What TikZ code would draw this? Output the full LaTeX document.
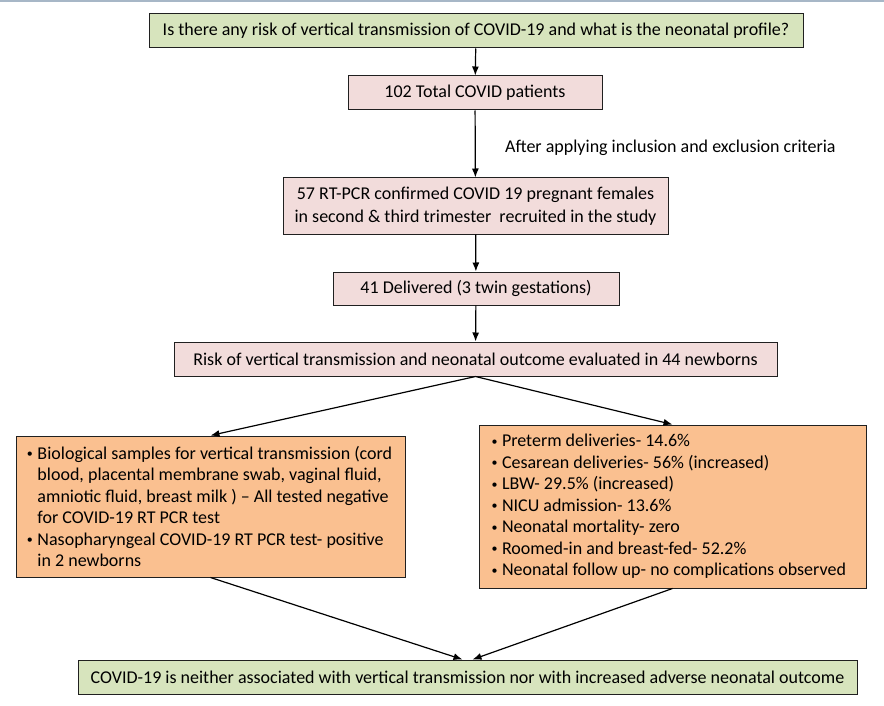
\documentclass[tikz,border=0pt]{standalone}
\usepackage{fontspec}
\setmainfont{Carlito}
\usetikzlibrary{arrows.meta,calc}
\definecolor{qgreen}{HTML}{D7E4BD}
\definecolor{qpink}{HTML}{F2DCDB}
\definecolor{qorange}{HTML}{FAC090}
\definecolor{qrule}{HTML}{A7B7C7}
\definecolor{qedge}{HTML}{202020}
\newcommand{\bitem}[2]{\par\hangindent=#1\hangafter=1\noindent\makebox[#1][l]{\hspace{1.5pt}\raisebox{1.5pt}{\fontsize{12}{12}\selectfont\textbullet}}#2}
\tikzset{
  basebox/.style={draw=qedge, line width=1pt, inner sep=0pt, align=center,
    font=\fontsize{18}{23}\selectfont},
  greenbox/.style={basebox, fill=qgreen},
  pinkbox/.style={basebox, fill=qpink},
  orangebox/.style={basebox, fill=qorange},
  flow/.style={line width=1.2pt, -{Latex[length=9pt,width=7pt]}},
}
\begin{document}
\begin{tikzpicture}[x=1pt,y=-1pt]
\useasboundingbox (0,0) rectangle (884,706);
\fill[qrule] (0,0) rectangle (884,2);
\node[greenbox, minimum width=654pt, minimum height=34pt] (q) at (476,31)
  {Is there any risk of vertical transmission of COVID-19 and what is the neonatal profile?};
\node[pinkbox, minimum width=254pt, minimum height=34pt] (p102) at (475,93)
  {102 Total COVID patients};
\node[anchor=west, font=\fontsize{18}{23}\selectfont, inner sep=0pt] (crit) at (505,148)
  {After applying inclusion and exclusion criteria};
\node[pinkbox, minimum width=385pt, minimum height=56pt] (p57) at (475.5,206)
  {57 RT-PCR confirmed COVID 19 pregnant females\\in second \& third trimester\ \ recruited in the study};
\node[pinkbox, minimum width=286pt, minimum height=33pt] (d41) at (476,288.5)
  {41 Delivered (3 twin gestations)};
\node[pinkbox, minimum width=603pt, minimum height=34pt] (risk) at (475.5,359)
  {Risk of vertical transmission and neonatal outcome evaluated in 44 newborns};
\node[orangebox, minimum width=389pt, minimum height=141pt] (lb) at (210.5,506.5)
  {\parbox{370pt}{\fontsize{18}{21.5}\selectfont
   \bitem{12pt}{Biological samples for vertical transmission (cord\\blood, placental membrane swab, vaginal fluid,\\amniotic fluid, breast milk ) -- All tested negative\\for COVID-19 RT PCR test}
   \bitem{12pt}{Nasopharyngeal COVID-19 RT PCR test- positive\\in 2 newborns}}};
\node[orangebox, minimum width=387pt, minimum height=163pt] (rb) at (672.5,506.5)
  {\parbox{365pt}{\fontsize{18}{21.5}\selectfont
   \bitem{12pt}{Preterm deliveries- 14.6\%}
   \bitem{12pt}{Cesarean deliveries- 56\% (increased)}
   \bitem{12pt}{LBW- 29.5\% (increased)}
   \bitem{12pt}{NICU admission- 13.6\%}
   \bitem{12pt}{Neonatal mortality- zero}
   \bitem{12pt}{Roomed-in and breast-fed- 52.2\%}
   \bitem{12pt}{Neonatal follow up- no complications observed}}};
\node[greenbox, minimum width=779pt, minimum height=34pt] (concl) at (467.5,677)
  {COVID-19 is neither associated with vertical transmission nor with increased adverse neonatal outcome};
\coordinate (cl) at ($(concl.north)+(-5,0)$);
\coordinate (cr) at ($(concl.north)+(5,0)$);
\draw[flow] (q) -- (p102);
\draw[flow] (p102) -- (p57);
\draw[flow] (p57) -- (d41);
\draw[flow] (d41) -- (risk);
\draw[flow] (risk.south) -- (lb.north);
\draw[flow] (risk.south) -- (rb.north);
\draw[flow] (lb.south) -- (cl);
\draw[flow] (rb.south) -- (cr);
\end{tikzpicture}
\end{document}
